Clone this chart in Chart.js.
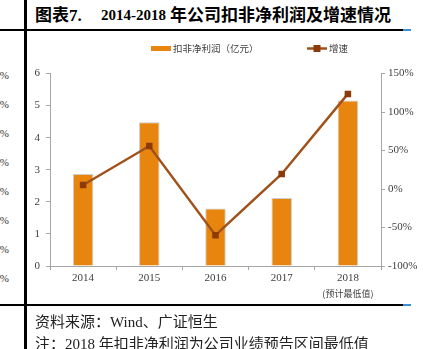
<!DOCTYPE html>
<html>
<head>
<meta charset="utf-8">
<script src="https://cdn.jsdelivr.net/npm/chart.js@4.4.1/dist/chart.umd.min.js"></script>
<style>
  body { margin: 0; background: #fff; }
  #page { position: relative; width: 423px; height: 349px; overflow: hidden; background: #fff; }
  .rule { position: absolute; background: #000; }
  .blue { position: absolute; background: #3b8fd6; }
  .txt { position: absolute; white-space: nowrap; line-height: 1; color: #000; }
  .cjk { font-family: "Liberation Serif", "Noto Sans CJK SC", serif; }
  .frag { position: absolute; right: 414px; font: 11px "Liberation Serif", serif; color: #333; line-height: 1; }
  #chartBox { position: absolute; left: 27px; top: 32px; }
</style>
</head>
<body>
<div id="page">
  <!-- frame lines -->
  <div class="rule" style="left:24px; top:0; width:2.5px; height:349px;"></div>
  <div class="rule" style="left:0; top:28.5px; width:403px; height:2px;"></div>
  <div class="blue" style="left:403px; top:28.5px; width:8px; height:2px;"></div>
  <div class="rule" style="left:0; top:304px; width:403px; height:2px;"></div>
  <div class="blue" style="left:403px; top:304px; width:8px; height:2px;"></div>

  <!-- title -->
  <div class="txt cjk" style="left:35px; top:7px; font-size:17px; font-weight:bold;">图表7.</div>
  <div class="txt cjk" style="left:101px; top:8px; font-size:15px; font-weight:bold;">2014-2018</div>
  <div class="txt cjk" style="left:170px; top:7px; font-size:17px; font-weight:bold;">年公司扣非净利润及增速情况</div>

  <!-- neighbouring column, cut at the edge -->
  <div id="fragCol"></div>

  <div id="chartBox"><canvas id="chart" width="396" height="317" style="width:396px;height:317px;"></canvas></div>

  <!-- source notes -->
  <div class="txt cjk" style="left:35px; top:314.5px; font-size:15px; color:#222;">资料来源：Wind、广证恒生</div>
  <div class="txt cjk" style="left:35px; top:336.5px; font-size:15px; color:#222;">注：2018 年扣非净利润为公司业绩预告区间最低值</div>
</div>

<script>
'use strict';

// data
const years = ['2014', '2015', '2016', '2017', '2018'];
const netProfit = [2.87, 4.48, 1.79, 2.12, 5.16];   // 亿元
const growth = [5.2, 55.8, -60, 19.5, 123.5];        // %
const profitTicks = [0, 1, 2, 3, 4, 5, 6];
const growthTicks = [-100, -50, 0, 50, 100, 150];
const fragLabels = ['%', '%', '%', '%', '%', '%', '%', '0%'];

const barLabel = '扣非净利润（亿元）';
const lineLabel = '增速';
const lastYearNote = '(预计最低值)';

const barColor = '#E7850F';
const lineColor = '#A0521C';
const markerColor = '#8B3A0A';
const axisColor = '#a6a6a6';
const tickColor = '#404040';

// leftover labels from the next column
const fragCol = document.getElementById('fragCol');
for (let i = 0; i < fragLabels.length; i++) {
  let d = document.createElement('div');
  d.className = 'frag';
  d.style.top = (70 + i * 29) + 'px';
  d.textContent = fragLabels[i];
  fragCol.appendChild(d);
}

// legend + 2018 note drawn by hand
const extrasPlugin = {
  id: 'extras',
  afterDraw(chart) {
    const ctx = chart.ctx;
    const area = chart.chartArea;
    ctx.save();

    // bar legend
    let bx = area.left + 101;
    let by = 16.5;
    ctx.fillStyle = barColor;
    ctx.fillRect(bx, by - 2.5, 20, 5);
    ctx.fillStyle = tickColor;
    ctx.font = '9.5px "Noto Sans CJK SC"';
    ctx.textBaseline = 'middle';
    ctx.textAlign = 'left';
    ctx.fillText(barLabel, bx + 22, by);

    // line legend
    let lx = area.left + 257;
    ctx.strokeStyle = lineColor;
    ctx.lineWidth = 2.5;
    ctx.beginPath();
    ctx.moveTo(lx, by);
    ctx.lineTo(lx + 20, by);
    ctx.stroke();
    ctx.fillStyle = markerColor;
    ctx.fillRect(lx + 6.5, by - 3.5, 7, 7);
    ctx.fillStyle = tickColor;
    ctx.fillText(lineLabel, lx + 22, by);

    // note under the last category
    const xScale = chart.scales.x;
    ctx.textAlign = 'center';
    ctx.font = '9px "Noto Sans CJK SC"';
    ctx.fillText(lastYearNote, xScale.getPixelForValue(years.length - 1), area.bottom + 27.5);

    ctx.restore();
  }
};

function renderChart() {
  const ctx = document.getElementById('chart').getContext('2d');
  const tickFont = { family: 'Liberation Serif', size: 11 };

  new Chart(ctx, {
    type: 'bar',
    data: {
      labels: years,
      datasets: [{
        type: 'line',
        label: lineLabel,
        data: growth,
        yAxisID: 'y1',
        borderColor: lineColor,
        borderWidth: 2.5,
        pointStyle: 'rect',
        pointRadius: 4.6,
        pointBackgroundColor: markerColor,
        pointBorderColor: markerColor,
        pointBorderWidth: 0,
        tension: 0,
        order: 0
      }, {
        label: barLabel,
        data: netProfit,
        yAxisID: 'y',
        backgroundColor: barColor,
        borderColor: 'rgba(200,200,200,0.9)',
        borderWidth: 1,
        categoryPercentage: 1,
        barPercentage: 0.31,
        order: 1
      }]
    },
    options: {
      responsive: false,
      animation: false,
      layout: {
        padding: { top: 41.5, left: 0, right: 0, bottom: 0 }
      },
      plugins: {
        legend: { display: false },
        tooltip: { enabled: false }
      },
      scales: {
        x: {
          afterFit: (scale) => { scale.height = 83; },
          border: { color: axisColor, width: 1 },
          grid: { drawOnChartArea: false, color: axisColor, tickLength: 4 },
          ticks: { font: tickFont, color: tickColor, padding: 2 }
        },
        y: {
          position: 'left',
          min: profitTicks[0],
          max: profitTicks[profitTicks.length - 1],
          afterFit: (scale) => { scale.width = 23; },
          afterBuildTicks: (scale) => { scale.ticks = profitTicks.map(v => ({ value: v })); },
          border: { color: axisColor, width: 1 },
          grid: { drawOnChartArea: false, color: axisColor, tickLength: 4 },
          ticks: { font: tickFont, color: tickColor, padding: 6 }
        },
        y1: {
          position: 'right',
          min: growthTicks[0],
          max: growthTicks[growthTicks.length - 1],
          afterFit: (scale) => { scale.width = 42; },
          afterBuildTicks: (scale) => { scale.ticks = growthTicks.map(v => ({ value: v })); },
          border: { color: axisColor, width: 1 },
          grid: { drawOnChartArea: false, color: axisColor, tickLength: 4 },
          ticks: {
            font: tickFont,
            color: tickColor,
            padding: 3,
            callback: (v) => v + '%'
          }
        }
      }
    },
    plugins: [extrasPlugin]
  });
}

renderChart();
</script>
</body>
</html>
